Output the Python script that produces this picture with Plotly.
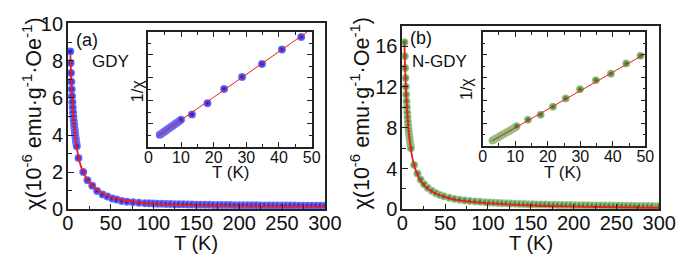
import plotly.graph_objects as go

# ---------------- data ----------------
# Panel (a) GDY : chi (1e-6 emu/g/Oe) vs T (K)
T_a = [2.9, 3.3, 3.7, 4.1, 4.5, 4.9, 5.3, 5.7, 6.1, 6.5, 6.9, 7.3, 7.7, 8.1, 8.5, 8.9, 9.3, 9.7, 10.1, 10.5,
       12.4, 18.0, 22.9, 28.5, 34.2, 40.6, 46.2, 51.9, 57, 63, 69, 76, 83, 90, 95, 100,
       105, 110, 115, 120, 125, 130, 135, 140, 145, 150, 155, 160, 165, 170, 175, 180, 185, 190, 195, 200,
       205, 210, 215, 220, 225, 230, 235, 240, 245, 250, 255, 260, 265, 270, 275, 280, 285, 290, 295, 300]
chi_a = [8.50, 7.88, 7.34, 6.87, 6.46, 6.10, 5.77, 5.48, 5.21, 4.97, 4.75, 4.55, 4.37, 4.20, 4.04, 3.89, 3.76, 3.63, 3.51, 3.40,
         2.76, 2.01, 1.57, 1.27, 0.99, 0.79, 0.69, 0.58, 0.52, 0.45, 0.41, 0.38, 0.35, 0.33, 0.32, 0.31,
         0.30, 0.295, 0.29, 0.28, 0.275, 0.27, 0.265, 0.26, 0.255, 0.25, 0.247, 0.243, 0.24, 0.237, 0.234, 0.231, 0.228, 0.225, 0.222, 0.22,
         0.218, 0.216, 0.214, 0.212, 0.21, 0.208, 0.206, 0.204, 0.202, 0.20, 0.199, 0.198, 0.197, 0.196, 0.195, 0.194, 0.193, 0.192, 0.191, 0.19]
Tfit_a = [3, 4, 5, 6, 7, 8, 9, 10, 12, 15, 20, 25, 30, 40, 50, 60, 80, 100, 150, 200, 250, 300]
chifit_a = [8.3, 6.95, 6.0, 5.25, 4.7, 4.2, 3.8, 3.45, 2.9, 2.35, 1.8, 1.45, 1.2, 0.88, 0.66, 0.54, 0.39, 0.29, 0.21, 0.17, 0.15, 0.14]

# inset (a): 1/chi (arb. units) vs T
Tin_a = [3.5, 4.0, 4.5, 5.0, 5.5, 6.0, 6.5, 7.0, 7.5, 8.0, 8.5, 9.0, 9.5, 10.0,
         13.35, 18.1, 23.2, 28.7, 34.8, 40.9, 46.8]
inv_a = [1.02, 1.12, 1.22, 1.32, 1.42, 1.52, 1.62, 1.72, 1.82, 1.92, 2.02, 2.12, 2.23, 2.34,
         2.80, 3.78, 5.02, 6.06, 7.20, 8.46, 9.54]
Tinfit_a = [3.0, 48.7]
invfit_a = [0.92, 10.0]

# Panel (b) N-GDY
T_b = [2.6, 3.0, 3.4, 3.8, 4.2, 4.6, 5.0, 5.4, 5.8, 6.2, 6.6, 7.0, 7.4, 7.8, 8.2, 8.6, 9.0, 9.4, 9.8, 10.2,
       13.9, 17.8, 21.6, 25.5, 29.9, 34.8, 39.4, 44.1, 48.5, 55, 61, 67, 73, 79, 85, 91, 97,
       102, 107, 112, 117, 122, 127, 132, 137, 142, 147, 152, 157, 162, 167, 172, 177, 182, 187, 192, 197,
       202, 207, 212, 217, 222, 227, 232, 237, 242, 247, 252, 257, 262, 267, 272, 277, 282, 287, 292, 297, 300]
chi_b = [16.39, 15.02, 13.86, 12.87, 12.01, 11.25, 10.59, 10.00, 9.47, 9.00, 8.57, 8.18, 7.82, 7.49, 7.19, 6.92, 6.66, 6.42, 6.20, 5.99,
         4.35, 3.50, 2.90, 2.45, 2.10, 1.80, 1.58, 1.40, 1.27, 1.12, 1.02, 0.94, 0.87, 0.82, 0.77, 0.73, 0.69,
         0.67, 0.64, 0.62, 0.60, 0.58, 0.56, 0.54, 0.53, 0.51, 0.50, 0.49, 0.48, 0.47, 0.46, 0.45, 0.44, 0.43, 0.42, 0.415, 0.41,
         0.40, 0.395, 0.39, 0.385, 0.38, 0.375, 0.37, 0.365, 0.36, 0.355, 0.35, 0.345, 0.34, 0.335, 0.33, 0.325, 0.32, 0.315, 0.31, 0.305, 0.30]
Tfit_b = [2.6, 3, 4, 5, 6, 7, 8, 10, 12, 15, 20, 25, 30, 40, 50, 60, 80, 100, 150, 200, 250, 300]
chifit_b = [16.2, 15.0, 12.5, 10.7, 9.3, 8.2, 7.3, 6.0, 5.0, 4.0, 3.0, 2.4, 2.0, 1.5, 1.2, 0.98, 0.72, 0.57, 0.37, 0.27, 0.2, 0.15]

# inset (b)
Tin_b = [3.0, 3.5, 4.0, 4.5, 5.0, 5.5, 6.0, 6.5, 7.0, 7.5, 8.0, 8.5, 9.0, 9.5, 10.0, 10.4,
         13.9, 17.8, 21.6, 25.5, 29.9, 34.8, 39.4, 44.1, 48.5]
inv_b = [0.48, 0.56, 0.64, 0.72, 0.80, 0.89, 0.97, 1.05, 1.13, 1.21, 1.29, 1.37, 1.46, 1.54, 1.62, 1.73,
         2.29, 2.74, 3.44, 4.16, 4.96, 5.76, 6.32, 7.22, 7.89]
Tinfit_b = [3.0, 49.5]
invfit_b = [0.45, 8.0]

# ---------------- figure ----------------
W, H = 685, 257
FONT = "Liberation Sans, Arial, sans-serif"


def fx(px):
    return px / W


def fy(py):
    return 1 - py / H


RED = "#ee1c1c"
STYLE = {"blue": ("#7a7aff", "#0a0ac0"), "green": ("#a8d098", "#1f6512")}


def pts(x, y, col, xa, ya, size):
    c_center, c_edge = STYLE[col]
    return go.Scatter(x=x, y=y, mode="markers", xaxis=xa, yaxis=ya, showlegend=False,
                      marker=dict(size=size, color=c_center,
                                  gradient=dict(type="radial", color=c_edge),
                                  line=dict(width=0)))


def fit(x, y, xa, ya, w):
    return go.Scatter(x=x, y=y, mode="lines", xaxis=xa, yaxis=ya, showlegend=False,
                      line=dict(color=RED, width=w, shape="spline"))


fig = go.Figure()
fig.add_trace(pts(T_a, chi_a, "blue", "x", "y", 8))
fig.add_trace(fit(Tfit_a, chifit_a, "x", "y", 1.8))
fig.add_trace(pts(Tin_a, inv_a, "blue", "x2", "y2", 8))
fig.add_trace(fit(Tinfit_a, invfit_a, "x2", "y2", 1))
fig.add_trace(pts(T_b, chi_b, "green", "x3", "y3", 8))
fig.add_trace(fit(Tfit_b, chifit_b, "x3", "y3", 1.8))
fig.add_trace(pts(Tin_b, inv_b, "green", "x4", "y4", 8))
fig.add_trace(fit(Tinfit_b, invfit_b, "x4", "y4", 1))

AX = dict(showline=True, linecolor="#222", linewidth=1.5, ticks="inside", tickcolor="#222",
          tickwidth=1.3, showgrid=False, zeroline=False, ticklabeloverflow="allow",
          tickfont=dict(family=FONT, size=20, color="#111"))


def main_x(dom, anchor):
    return dict(AX, domain=dom, anchor=anchor, range=[0, 300], dtick=50, ticklen=6, mirror=True,
                ticklabelstandoff=-5,
                minor=dict(ticks="inside", dtick=25, ticklen=4, tickcolor="#222"))


def main_y(dom, anchor, rng, dt):
    return dict(AX, domain=dom, anchor=anchor, range=rng, dtick=dt, ticklen=6, mirror=True,
                ticklabelstandoff=-1,
                minor=dict(ticks="inside", dtick=dt / 2, ticklen=4, tickcolor="#222"))


def in_x(dom, anchor):
    return dict(AX, domain=dom, anchor=anchor, range=[0, 50], dtick=10, ticklen=5, mirror="allticks",
                tickfont=dict(family=FONT, size=16, color="#111"), ticklabelstandoff=-5,
                minor=dict(ticks="inside", dtick=5, ticklen=3, tickcolor="#222"))


def in_y(dom, anchor):
    return dict(AX, domain=dom, anchor=anchor, range=[0, 10], dtick=2, ticklen=5, mirror="allticks",
                showticklabels=False,
                minor=dict(ticks="inside", dtick=1, ticklen=3, tickcolor="#222"))


fig.update_layout(
    width=W, height=H, margin=dict(l=0, r=0, t=0, b=0),
    paper_bgcolor="white", plot_bgcolor="white",
    xaxis=main_x([fx(55.7), fx(321.7)], "y"),
    yaxis=main_y([fy(208.3), fy(5.5)], "x", [0, 10.03], 2),
    xaxis2=in_x([fx(139), fx(308)], "y2"),
    yaxis2=in_y([fy(140), fy(15)], "x2"),
    xaxis3=main_x([fx(401.7), fx(667.7)], "y3"),
    yaxis3=main_y([fy(208.3), fy(8.5)], "x3", [0, 18], 4),
    xaxis4=in_x([fx(485), fx(653.3)], "y4"),
    yaxis4=in_y([fy(139.3), fy(15)], "x4"),
)


def ann(text, xp, yp, size, angle=0):
    fig.add_annotation(text=text, x=fx(xp), y=fy(yp), xref="paper", yref="paper", showarrow=False,
                       textangle=angle, font=dict(family=FONT, size=size, color="#111"),
                       xanchor="center", yanchor="middle")


YT = "χ(10<sup>-6</sup> emu·g<sup>-1</sup>·Oe<sup>-1</sup>)"
ann(YT, 18, 104, 21.5, -90)
ann(YT, 357, 104, 21.5, -90)
ann("T (K)", 188, 245, 20)
ann("T (K)", 535, 245, 20)
ann("T (K)", 224, 168, 17)
ann("T (K)", 568, 168, 17)
ann("1/χ", 128, 80, 16, -90)
ann("1/χ", 468, 77, 16, -90)
ann("(a)", 76, 24, 18)
ann("GDY", 100, 47, 17)
ann("(b)", 421, 22, 18)
ann("N-GDY", 440, 47, 17)

fig.write_html("out.html")
